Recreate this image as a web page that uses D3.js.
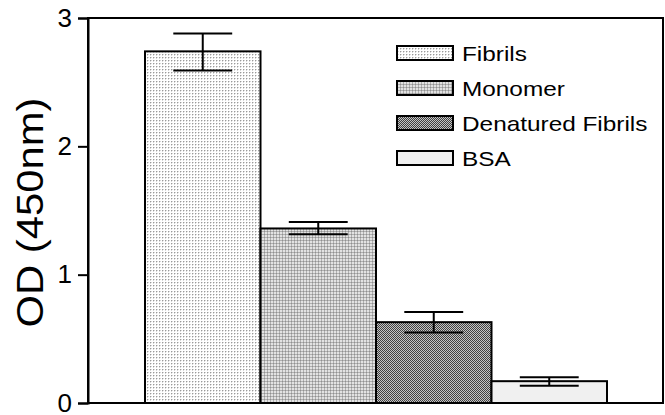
<!DOCTYPE html>
<html>
<head>
<meta charset="utf-8">
<script src="https://cdn.jsdelivr.net/npm/d3@7"></script>
<style>
  html, body { margin: 0; padding: 0; background: #fff; }
  svg { display: block; font-family: "Liberation Sans", Arial, Helvetica, sans-serif; }
</style>
</head>
<body>
<svg id="chart" width="665" height="415"></svg>
<script>
// Absorbance readings per sample
const categories = ["Fibrils", "Monomer", "Denatured Fibrils", "BSA"];
const means = [2.74, 1.36, 0.63, 0.17];
const errLow = [2.59, 1.315, 0.55, 0.135];
const errHigh = [2.88, 1.41, 0.71, 0.20];
const yTicks = [0, 1, 2, 3];
const yTitle = "OD (450nm)";

const svg = d3.select("#chart");
const defs = svg.append("defs");

// Fill patterns for each sample
function pattern(id, size, bg, cells) {
  const p = defs.append("pattern")
    .attr("id", id).attr("patternUnits", "userSpaceOnUse")
    .attr("width", size).attr("height", size);
  p.append("rect").attr("width", size).attr("height", size).attr("fill", bg);
  cells.forEach(c => p.append("rect")
    .attr("x", c[0]).attr("y", c[1]).attr("width", c[2]).attr("height", c[3])
    .attr("fill", c[4]));
}
// fine dotted
pattern("pFibrils", 3, "#ffffff", [[0, 0, 1, 1, "#9a9a9a"], [1, 0, 1, 1, "#d8d8d8"], [0, 1, 1, 1, "#d8d8d8"]]);
// light plaid
pattern("pMonomer", 3, "#e2e2e2", [[0, 0, 3, 1, "#b0b0b0"], [0, 0, 1, 3, "#b0b0b0"], [0, 0, 1, 1, "#909090"]]);
// dark checker
pattern("pDenatured", 2, "#404040", [[1, 0, 1, 1, "#c4c4c4"], [0, 1, 1, 1, "#c4c4c4"]]);
// plain light grey
pattern("pBSA", 2, "#f0f0f0", []);

const fills = ["url(#pFibrils)", "url(#pMonomer)", "url(#pDenatured)", "url(#pBSA)"];

const plotLeft = 88, plotRight = 663, plotTop = 18, plotBottom = 403;

const x = d3.scaleBand().domain(categories).range([145, 607]).padding(0);
const y = d3.scaleLinear().domain([0, 3]).range([plotBottom, plotTop]);

const rows = categories.map((c, i) => ({ c, m: means[i], lo: errLow[i], hi: errHigh[i], f: fills[i] }));

// bars
svg.append("g").selectAll("rect").data(rows).join("rect")
  .attr("x", d => x(d.c))
  .attr("y", d => y(d.m))
  .attr("width", x.bandwidth())
  .attr("height", d => y(0) - y(d.m))
  .attr("fill", d => d.f)
  .attr("stroke", "#000")
  .attr("stroke-width", 2);

// error bars
const capHalf = x.bandwidth() * 0.255;
const eb = svg.append("g").attr("stroke", "#000").attr("stroke-width", 2);
rows.forEach(d => {
  const cx = x(d.c) + x.bandwidth() / 2;
  eb.append("line").attr("x1", cx).attr("x2", cx).attr("y1", y(d.hi)).attr("y2", y(d.lo));
  eb.append("line").attr("x1", cx - capHalf).attr("x2", cx + capHalf).attr("y1", y(d.hi)).attr("y2", y(d.hi));
  eb.append("line").attr("x1", cx - capHalf).attr("x2", cx + capHalf).attr("y1", y(d.lo)).attr("y2", y(d.lo));
});

// frame
svg.append("path")
  .attr("d", `M${plotLeft},${plotTop}H${plotRight}V${plotBottom}H${plotLeft}Z`)
  .attr("fill", "none").attr("stroke", "#000").attr("stroke-width", 2);

// y axis
const yAxis = d3.axisLeft(y).tickValues(yTicks).tickFormat(d3.format("d")).tickSize(10).tickPadding(6);
const ga = svg.append("g").attr("transform", `translate(${plotLeft},0)`).call(yAxis);
ga.select(".domain").attr("stroke-width", 2);
ga.selectAll(".tick line").attr("stroke-width", 2);
ga.selectAll(".tick text").attr("font-size", 26).attr("fill", "#000")
  .attr("font-family", "Liberation Sans, Arial, sans-serif");

svg.append("text")
  .attr("transform", `translate(43,${(plotTop + plotBottom) / 2 + 2}) rotate(-90) scale(1.13,1)`)
  .attr("text-anchor", "middle")
  .attr("font-size", 37)
  .text(yTitle);

// legend
const lg = svg.append("g").attr("transform", "translate(397,0)");
const legendY = [53, 88, 123, 158];
rows.forEach((d, i) => {
  lg.append("rect").attr("x", 0).attr("y", legendY[i] - 7).attr("width", 56).attr("height", 14)
    .attr("fill", d.f).attr("stroke", "#000").attr("stroke-width", 2);
  lg.append("text")
    .attr("transform", `translate(65,${legendY[i] + 7.5}) scale(1.16,1)`)
    .attr("font-size", 21).text(d.c);
});
</script>
</body>
</html>
